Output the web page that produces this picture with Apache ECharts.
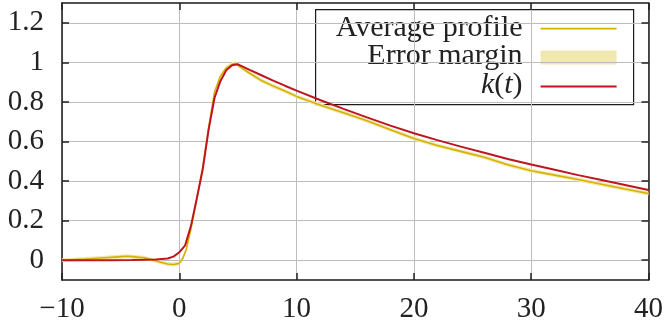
<!DOCTYPE html>
<html>
<head>
<meta charset="utf-8">
<script src="https://cdn.jsdelivr.net/npm/echarts@6/dist/echarts.min.js"></script>
<style>
  html, body { margin: 0; padding: 0; background: #fff; }
  #chart { width: 666px; height: 326px; }
</style>
</head>
<body>
<div id="chart"></div>
<script>
// values
const tAvg = [-10, -9, -8, -7, -6, -5, -4.5, -4, -3, -2.5, -2, -1.5, -1, -0.5, 0, 0.3, 0.6, 1, 1.5, 2, 2.5, 3, 3.5, 4, 4.5, 4.8, 5, 5.5, 6, 7, 8, 9, 10, 12, 14, 16, 18, 20, 22, 24, 26, 28, 30, 32, 34, 36, 38, 40]
const avgProfile = [0.0, 0.003, 0.006, 0.01, 0.014, 0.018, 0.02, 0.018, 0.012, 0.005, -0.003, -0.012, -0.019, -0.022, -0.016, 0.01, 0.055, 0.16, 0.31, 0.47, 0.67, 0.85, 0.93, 0.972, 0.99, 0.995, 0.985, 0.965, 0.945, 0.908, 0.88, 0.855, 0.828, 0.785, 0.745, 0.705, 0.66, 0.615, 0.58, 0.55, 0.52, 0.482, 0.452, 0.43, 0.408, 0.384, 0.36, 0.337]
const errMargin = [0.01, 0.01, 0.01, 0.01, 0.01, 0.01, 0.01, 0.01, 0.01, 0.01, 0.01, 0.01, 0.01, 0.01, 0.01, 0.01, 0.01, 0.01, 0.01, 0.01, 0.01, 0.01, 0.01, 0.01, 0.01, 0.01, 0.01, 0.01, 0.01, 0.01, 0.01, 0.01, 0.01, 0.01, 0.01, 0.01, 0.01, 0.01, 0.01, 0.01, 0.01, 0.01, 0.01, 0.01, 0.01, 0.01, 0.01, 0.01]

const tK = [-10, -6, -4, -3, -2, -1, -0.5, 0, 0.5, 1, 1.5, 2, 2.5, 3, 3.5, 4, 4.5, 5, 6, 7, 8, 9, 10, 12, 14, 16, 18, 20, 22, 24, 26, 28, 30, 32, 34, 36, 38, 40]
const kVals = [0, 0, 0.001, 0.002, 0.004, 0.009, 0.018, 0.04, 0.075, 0.175, 0.315, 0.46, 0.66, 0.82, 0.905, 0.96, 0.985, 0.99, 0.962, 0.935, 0.908, 0.882, 0.857, 0.81, 0.765, 0.722, 0.68, 0.642, 0.607, 0.574, 0.543, 0.512, 0.484, 0.457, 0.43, 0.405, 0.38, 0.355]

const yTicks = [0, 0.2, 0.4, 0.6, 0.8, 1, 1.2]
const legendNames = ['Average profile', 'Error margin', 'k(t)']

const FONT = '"Liberation Serif", "DejaVu Serif", serif'
const C_AVG = '#d6b200'
const C_BAND = '#f1e7b3'
const C_K = '#bf1520'
const C_GRID = '#bdbdbd'
const C_AXIS = '#1a1a1a'

const fmtX = v => (v < 0 ? '\u2212' + Math.abs(v) : String(v))

const avgData = tAvg.map((t, i) => [t, avgProfile[i]])
const kData = tK.map((t, i) => [t, kVals[i]])

const chart = echarts.init(document.getElementById('chart'), null, { renderer: 'canvas' })

const axisLine = { show: true, onZero: false, lineStyle: { color: C_AXIS, width: 1.5 } }
const tickStyle = { color: '#222', width: 1.5 }
const xBase = { type: 'value', min: -10, max: 40, interval: 10, axisLine }
const yBase = { type: 'value', min: -0.1, max: 1.3, axisLine }

chart.setOption({
  animation: false,
  grid: { left: 62, top: 3, width: 589, height: 277 },
  xAxis: [
    {
      ...xBase, position: 'bottom',
      axisTick: { show: true, inside: true, length: 7, lineStyle: tickStyle },
      axisLabel: { color: '#222', fontFamily: FONT, fontSize: 29, margin: 15, formatter: fmtX },
      splitLine: { show: true, lineStyle: { color: C_GRID, width: 1 } },
    },
    {
      ...xBase, position: 'top',
      axisTick: { show: true, inside: true, length: 7, lineStyle: tickStyle },
      axisLabel: { show: false },
      splitLine: { show: false },
    },
  ],
  yAxis: [
    {
      ...yBase, position: 'left',
      axisTick: { show: true, inside: true, length: 7, customValues: yTicks, lineStyle: tickStyle },
      axisLabel: {
        color: '#222', fontFamily: FONT, fontSize: 29, margin: 18, customValues: yTicks,
        formatter: v => String(Math.round(v * 10) / 10),
        padding: [0, 0, 5, 0],
      },
      splitLine: { show: true, lineStyle: { color: C_GRID, width: 1 } },
    },
    {
      ...yBase, position: 'right',
      axisTick: { show: true, inside: true, length: 7, customValues: yTicks, lineStyle: tickStyle },
      axisLabel: { show: false, customValues: yTicks },
      splitLine: { show: false },
    },
  ],
  series: [
    {
      name: legendNames[1],
      type: 'custom',
      data: [0],
      z: 1,
      silent: true,
      renderItem: (params, api) => {
        const upper = tAvg.map((t, i) => api.coord([t, avgProfile[i] + errMargin[i]]))
        const lower = tAvg.map((t, i) => api.coord([t, avgProfile[i] - errMargin[i]])).reverse()
        return {
          type: 'polygon',
          shape: { points: upper.concat(lower) },
          style: { fill: C_BAND },
        }
      },
    },
    {
      name: legendNames[0],
      type: 'line',
      data: avgData,
      symbol: 'none',
      z: 2,
      lineStyle: { color: C_AVG, width: 1.6 },
    },
    {
      name: legendNames[2],
      type: 'line',
      data: kData,
      symbol: 'none',
      z: 3,
      lineStyle: { color: C_K, width: 2 },
    },
  ],
  graphic: [
    {
      type: 'group', left: 315, top: 9, z: 100,
      children: [
        {
          type: 'rect', shape: { x: 0, y: 0, width: 318, height: 95 },
          style: { fill: '#fff', stroke: C_AXIS, lineWidth: 1.2 },
        },
        {
          type: 'text', x: 207, y: 19,
          style: { text: legendNames[0], font: '30px ' + FONT, fill: '#222', align: 'right', verticalAlign: 'middle' },
        },
        {
          type: 'line', shape: { x1: 225, y1: 19, x2: 301, y2: 19 },
          style: { stroke: C_AVG, lineWidth: 1.6 },
        },
        {
          type: 'text', x: 207, y: 47,
          style: { text: legendNames[1], font: '30px ' + FONT, fill: '#222', align: 'right', verticalAlign: 'middle' },
        },
        {
          type: 'rect', shape: { x: 225, y: 41, width: 76, height: 14 },
          style: { fill: C_BAND },
        },
        {
          type: 'text', x: 207, y: 76,
          style: {
            text: '{i|k}{r|(}{i|t}{r|)}',
            align: 'right', verticalAlign: 'middle',
            rich: {
              i: { font: 'italic 30px ' + FONT, fill: '#222' },
              r: { font: '30px ' + FONT, fill: '#222' },
            },
          },
        },
        {
          type: 'line', shape: { x1: 225, y1: 77, x2: 301, y2: 77 },
          style: { stroke: C_K, lineWidth: 2 },
        },
      ],
    },
  ],
})
</script>
</body>
</html>
